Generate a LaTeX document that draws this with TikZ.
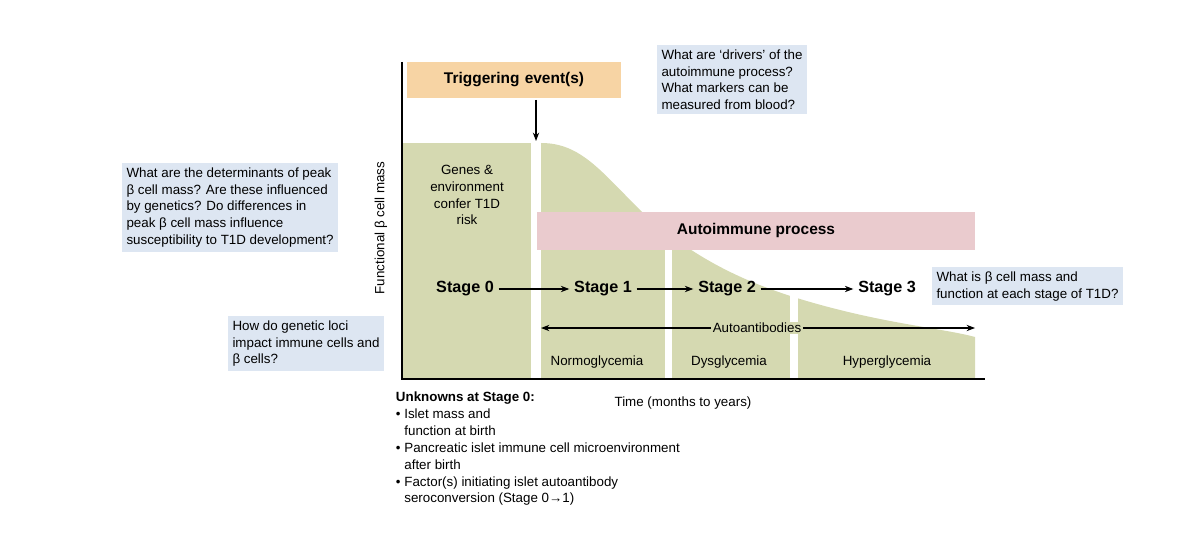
\documentclass[tikz,border=0pt]{standalone}
\usepackage{fontspec}
\setmainfont{Liberation Sans}
\usetikzlibrary{arrows.meta, positioning}
\definecolor{massgreen}{HTML}{D5D9B1}
\definecolor{trigorange}{HTML}{F7D4A4}
\definecolor{askblue}{HTML}{DDE6F2}
\definecolor{autopink}{HTML}{EACBCE}
\tikzset{
    question/.style={fill=askblue, align=left, inner sep=3pt, font=\fontsize{9.5}{12}\selectfont},
    stage/.style={font=\bfseries\fontsize{11.5}{14}\selectfont},
    phase/.style={font=\fontsize{9.5}{12}\selectfont},
    arrow/.style={-{Stealth[length=6pt]}, line width=0.8pt},
}

\begin{document}
\begin{tikzpicture}[x=0.025cm, y=-0.025cm]
    \useasboundingbox (0,0) rectangle (1200,544);

    % Cell mass areas
    \fill[massgreen] (403,143) rectangle (531,378);
    \fill[massgreen] (541,143) .. controls (580,143) and (600,170) .. (640,210)
        .. controls (700,265) and (760,290) .. (840,310)
        .. controls (900,325) and (950,330) .. (975,337) -- (975,378) -- (541,378) -- cycle;
    \fill[white] (665,250) rectangle (672,379);
    \fill[white] (790,250) rectangle (798,379);

    % Axes
    \draw[line width=1pt] (402,62) -- (402,379) -- (985,379);
    \node[rotate=90, phase] (yaxis) at (381,228) {Functional β cell mass};
    \node[phase] (xaxis) at (683,403) {Time (months to years)};

    % Boxes
    \node[fill=trigorange, text width=5.1cm, align=center,
          minimum height=0.9cm, font=\bfseries\fontsize{11}{13}\selectfont] (trigger) at (514,80) {Triggering event(s)};
    \coordinate (hit) at (536,141);
    \draw[arrow] (536,100) -- (hit);
    \node[fill=autopink, minimum width=10.95cm, minimum height=0.95cm,
          font=\bfseries\fontsize{11}{13}\selectfont] (auto) at (756,231) {Autoimmune process};
    \node[question, anchor=north west] (drivers) at (657,45) {What are ‘drivers’ of the\\autoimmune process?\\What markers can be\\measured from blood?};
    \node[question, anchor=north west] (peak) at (122,163) {What are the determinants of peak\\β cell mass? Are these influenced\\by genetics? Do differences in\\peak β cell mass influence\\susceptibility to T1D development?};
    \node[question, anchor=north west] (loci) at (228,316) {How do genetic loci\\impact immune cells and\\β cells?};
    \node[question, anchor=north west] (stagefn) at (932,267) {What is β cell mass and\\function at each stage of T1D?};

    % Stages
    \node[phase, align=center] (genes) at (467,195) {Genes \&\\environment\\confer T1D\\risk};
    \node[stage] (s0) at (465,289) {Stage 0};
    \node[stage] (s1) at (603,289) {Stage 1};
    \node[stage] (s2) at (727,289) {Stage 2};
    \node[stage] (s3) at (887,289) {Stage 3};
    \draw[arrow] (s0) -- (s1);
    \draw[arrow] (s1) -- (s2);
    \draw[arrow] (s2) -- (s3);

    \node[phase, fill=massgreen, inner sep=1pt] (abs) at (757,328) {Autoantibodies};
    \coordinate (absl) at (541,328);
    \coordinate (absr) at (975,328);
    \draw[arrow] (abs) -- (absl);
    \draw[arrow] (abs) -- (absr);
    \node[phase] (normo) at (597,362) {Normoglycemia};
    \node[phase] (dys) at (729,362) {Dysglycemia};
    \node[phase] (hyper) at (887,362) {Hyperglycemia};

    % Unknowns
    \node[phase, anchor=north west, align=left] (unknowns) at (391,387)
        {\textbf{Unknowns at Stage 0:}\\
         • Islet mass and\\\phantom{• }function at birth\\
         • Pancreatic islet immune cell microenvironment\\\phantom{• }after birth\\
         • Factor(s) initiating islet autoantibody\\\phantom{• }seroconversion (Stage 0→1)};
\end{tikzpicture}
\end{document}
